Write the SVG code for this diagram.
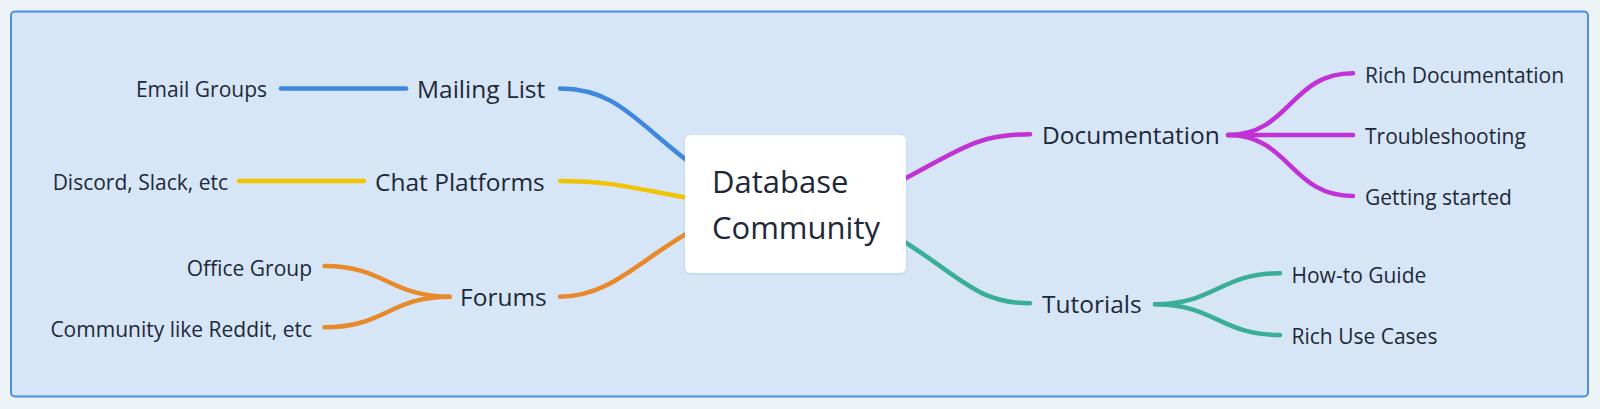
<svg xmlns="http://www.w3.org/2000/svg" width="1600" height="409" viewBox="0 0 1600 409">
<style>
  .t { font-family: "Open Sans", "Noto Sans", sans-serif; fill: #1e2838; }
  .leaf { font-size: 21px; }
  .main { font-size: 24.5px; }
  .root { font-size: 31px; }
  .c { fill: none; stroke-width: 4.5; stroke-linecap: round; }
  .blue { stroke: #3f86dd; }
  .yellow { stroke: #f2c300; }
  .orange { stroke: #e8892b; }
  .purple { stroke: #c132d6; }
  .teal { stroke: #3aae98; }
</style>
<defs>
  <filter id="sh" x="-10%" y="-10%" width="120%" height="130%">
    <feDropShadow dx="0" dy="1" stdDeviation="1.5" flood-color="#6a86a8" flood-opacity="0.25"/>
  </filter>
</defs>
<rect x="0" y="0" width="1600" height="409" fill="#eef3f8"/>
<rect x="11" y="11.5" width="1577" height="385" rx="4" fill="#d6e6f7" stroke="#4a8fe0" stroke-width="2"/>

<g id="connectors">
  <path class="c blue" d="M281,88.5 L406,88.5"/>
  <path class="c blue" d="M560,88.5 C620,88.5 640,128 700,170"/>
  <path class="c yellow" d="M239,181 L364,181"/>
  <path class="c yellow" d="M560,181 C615,181 640,190 700,200"/>
  <path class="c orange" d="M449.7,296.7 C390,296.7 385,266 324.5,266"/>
  <path class="c orange" d="M449.7,296.7 C390,296.7 385,327.3 324.5,327.3"/>
  <path class="c orange" d="M560,296.7 C612,296.7 640,258 700,226"/>
  <path class="c purple" d="M895,184 C960,150 975,134.3 1030,134.3"/>
  <path class="c purple" d="M1228,135 C1290,135 1290,73.3 1353,73.3"/>
  <path class="c purple" d="M1228,135 L1353,135"/>
  <path class="c purple" d="M1228,135 C1290,135 1290,196 1353,196"/>
  <path class="c teal" d="M895,236 C960,275 975,303.3 1030,303.3"/>
  <path class="c teal" d="M1155,304.3 C1215,304.3 1220,273.3 1280,273.3"/>
  <path class="c teal" d="M1155,304.3 C1215,304.3 1220,335 1280,335"/>
</g>

<g id="root">
  <rect x="685" y="135" width="221" height="138" rx="6" fill="#ffffff" filter="url(#sh)"/>
  <text class="t root" x="712" y="192.5">Database</text>
  <text class="t root" x="712" y="239">Community</text>
</g>

<g id="mailing-list"><text class="t main" x="417" y="97.5">Mailing List</text></g>
<g id="email-groups"><text class="t leaf" x="267" y="97" text-anchor="end">Email Groups</text></g>

<g id="chat-platforms"><text class="t main" x="375" y="190.5">Chat Platforms</text></g>
<g id="discord-slack"><text class="t leaf" x="228" y="190" text-anchor="end">Discord, Slack, etc</text></g>

<g id="forums"><text class="t main" x="460" y="306">Forums</text></g>
<g id="office-group"><text class="t leaf" x="312" y="276" text-anchor="end">Office Group</text></g>
<g id="community-reddit"><text class="t leaf" x="312" y="336.5" text-anchor="end">Community like Reddit, etc</text></g>

<g id="documentation"><text class="t main" x="1042" y="144">Documentation</text></g>
<g id="rich-documentation"><text class="t leaf" x="1365" y="82.5">Rich Documentation</text></g>
<g id="troubleshooting"><text class="t leaf" x="1365" y="144">Troubleshooting</text></g>
<g id="getting-started"><text class="t leaf" x="1365" y="205">Getting started</text></g>

<g id="tutorials"><text class="t main" x="1042" y="313">Tutorials</text></g>
<g id="how-to-guide"><text class="t leaf" x="1291.5" y="282.5">How-to Guide</text></g>
<g id="rich-use-cases"><text class="t leaf" x="1291.5" y="344">Rich Use Cases</text></g>
</svg>
